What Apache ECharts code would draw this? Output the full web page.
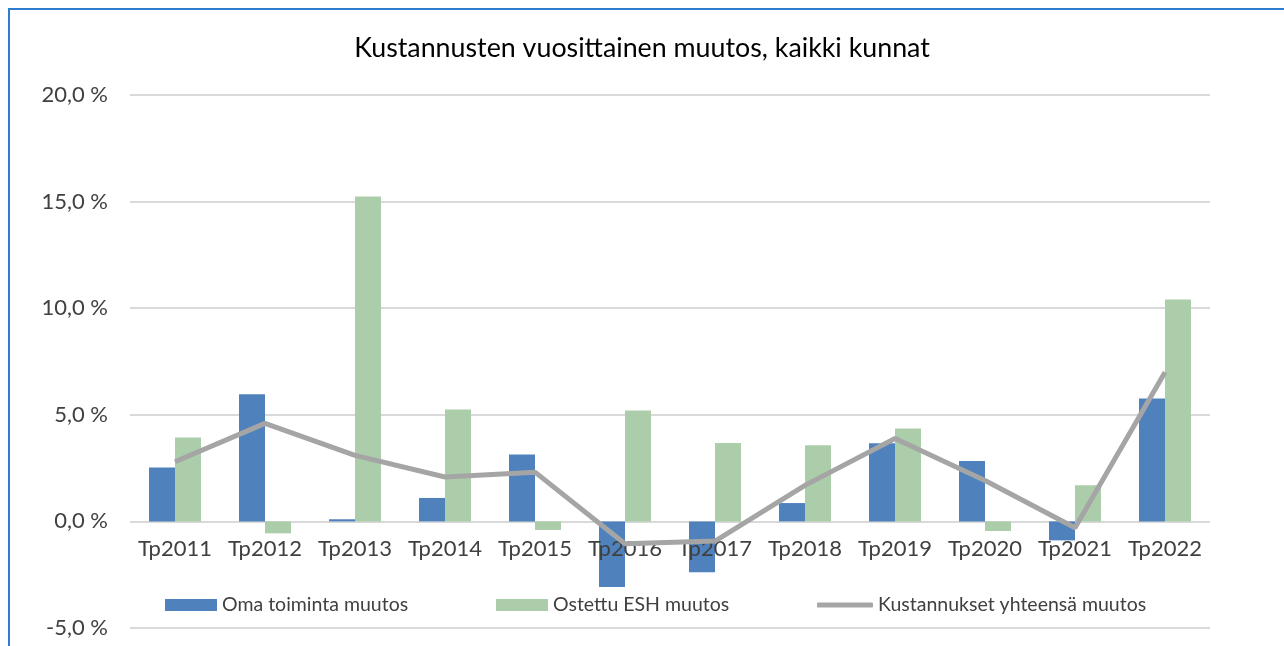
<!DOCTYPE html>
<html>
<head>
<meta charset="utf-8">
<script src="https://cdn.jsdelivr.net/npm/echarts@6/dist/echarts.min.js"></script>
<style>
  html, body { margin: 0; padding: 0; background: #fff; overflow: hidden; }
  #frame { position: absolute; left: 8px; top: 8px; width: 1290px; height: 700px; border: 2px solid #2e7bcf; box-sizing: border-box; }
  #main { position: absolute; left: 0; top: 0; width: 1284px; height: 646px; }
</style>
</head>
<body>
<div id="frame"></div>
<div id="main"></div>
<script>
// kategoriat ja sarjat
const categories = ['Tp2011', 'Tp2012', 'Tp2013', 'Tp2014', 'Tp2015', 'Tp2016', 'Tp2017', 'Tp2018', 'Tp2019', 'Tp2020', 'Tp2021', 'Tp2022'];
const omaToiminta = [2.53, 5.96, 0.1, 1.1, 3.14, -3.08, -2.38, 0.86, 3.66, 2.83, -0.89, 5.77];
const ostettuEsh = [3.94, -0.56, 15.24, 5.25, -0.4, 5.2, 3.68, 3.57, 4.36, -0.45, 1.69, 10.41];
const yhteensa = [2.8, 4.6, 3.1, 2.08, 2.31, -1.05, -0.92, 1.69, 3.89, 1.92, -0.3, 7.0];
const yTicks = [-5, 0, 5, 10, 15, 20];

const fmt = v => v.toFixed(1).replace('.', ',') + ' %';
const font = 'Lato, "Open Sans", sans-serif';
const legendText = { fontFamily: font, fontSize: 19.5, color: '#404040' };

// yksi selite per sarja, jotta paikat osuvat
const legendAt = (name, left, extra) => Object.assign({
    left: left,
    top: 595,
    padding: 0,
    itemWidth: 52,
    itemHeight: 12,
    textStyle: legendText,
    data: [name]
}, extra || {});

const myChart = echarts.init(document.getElementById('main'));
myChart.setOption({
    animation: false,
    title: {
        text: 'Kustannusten vuosittainen muutos, kaikki kunnat',
        left: 'center',
        top: 30,
        textStyle: { fontFamily: font, fontSize: 26.8, fontWeight: 'normal', color: '#000' }
    },
    legend: [
        legendAt('Oma toiminta muutos', 165, { icon: 'rect' }),
        legendAt('Ostettu ESH muutos', 496, { icon: 'rect' }),
        legendAt('Kustannukset yhteensä muutos', 817, { icon: 'roundRect', itemWidth: 56, itemHeight: 5 })
    ],
    grid: { left: 130, right: 74, top: 95, bottom: 18, outerBoundsMode: 'none', containLabel: false },
    xAxis: {
        type: 'category',
        data: categories,
        z: 3,
        axisLine: { show: false, onZero: false },
        axisTick: { show: false },
        axisLabel: { fontFamily: font, fontSize: 22, color: '#404040', margin: -90, interval: 0 }
    },
    yAxis: {
        type: 'value',
        min: yTicks[0],
        max: yTicks[yTicks.length - 1],
        interval: 5,
        axisLabel: { fontFamily: font, fontSize: 22, color: '#404040', margin: 22, formatter: fmt },
        splitLine: { lineStyle: { color: '#d9d9d9', width: 2 } }
    },
    series: [
        {
            name: 'Oma toiminta muutos',
            type: 'bar',
            data: omaToiminta,
            barWidth: 26,
            barGap: '0%',
            z: 2,
            itemStyle: { color: '#4f81bd' }
        },
        {
            name: 'Ostettu ESH muutos',
            type: 'bar',
            data: ostettuEsh,
            barWidth: 26,
            z: 2,
            itemStyle: { color: '#accdaa' }
        },
        {
            name: 'Kustannukset yhteensä muutos',
            type: 'line',
            data: yhteensa,
            symbol: 'none',
            z: 5,
            lineStyle: { color: '#a5a5a5', width: 5 },
            itemStyle: { color: '#a5a5a5' }
        }
    ]
});
</script>
</body>
</html>
